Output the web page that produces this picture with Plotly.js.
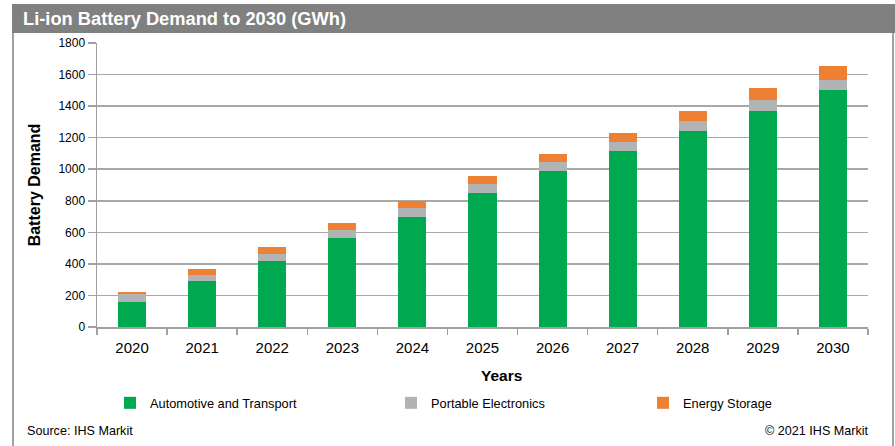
<!DOCTYPE html>
<html>
<head>
<meta charset="utf-8">
<script src="https://cdn.plot.ly/plotly-3.0.1.min.js"></script>
<style>html,body{margin:0;padding:0;background:#fff;}#chart{width:895px;height:446px;}</style>
</head>
<body>
<div id="chart"></div>
<script>
const years = ['2020','2021','2022','2023','2024','2025','2026','2027','2028','2029','2030'];
const automotive = [160, 290, 416, 562, 699, 851, 987, 1114, 1243, 1372, 1499];
const portable   = [47, 41, 48, 53, 53, 54, 57, 57, 61, 67, 69];
const storage    = [17, 36, 41, 46, 48, 53, 51, 61, 66, 76, 88];
const seriesNames = ['Automotive and Transport', 'Portable Electronics', 'Energy Storage'];
const colors = ['#00a94f', '#b2b3b5', '#ee8033'];

const W = 895, H = 446;
const M = {l: 97, r: 27, t: 43, b: 119};
const PW = W - M.l - M.r, PH = H - M.t - M.b;
const px = x => (x - M.l) / PW;
const py = y => (H - M.b - y) / PH;

const FONT = 'Arial, "Liberation Sans", sans-serif';

const data = [automotive, portable, storage].map((vals, i) => ({
  type: 'bar',
  x: years,
  y: vals,
  name: seriesNames[i],
  marker: {color: colors[i]},
  legend: i === 0 ? 'legend' : 'legend' + (i + 1),
  hoverinfo: 'x+y+name'
}));

const legendBase = {
  orientation: 'h', yanchor: 'middle', xanchor: 'left',
  y: py(403), font: {family: FONT, size: 12.8, color: '#000'},
  bgcolor: 'rgba(0,0,0,0)', itemwidth: 30
};

const layout = {
  width: W, height: H,
  margin: M,
  paper_bgcolor: '#fff', plot_bgcolor: '#fff',
  barmode: 'stack',
  bargap: 0.6,
  font: {family: FONT, color: '#000'},
  title: {
    text: '<b>Li-ion Battery Demand to 2030 (GWh)</b>',
    font: {family: FONT, size: 18.3, color: '#fff'},
    xref: 'container', yref: 'container',
    x: 23 / W, xanchor: 'left', y: 1 - 19 / H, yanchor: 'middle'
  },
  xaxis: {
    type: 'category',
    tickson: 'boundaries',
    ticks: 'outside', ticklen: 6, tickcolor: '#a0a0a0', tickwidth: 1.5,
    ticklabelstandoff: 6,
    showline: true, linecolor: '#a0a0a0', linewidth: 1.5,
    showgrid: false,
    tickfont: {family: FONT, size: 15, color: '#000'}
  },
  yaxis: {
    range: [0, 1800], dtick: 200,
    ticks: 'outside', ticklen: 8, tickcolor: '#a0a0a0', tickwidth: 1.5,
    showline: true, linecolor: '#a0a0a0', linewidth: 1.5,
    gridcolor: '#a8a8a8', gridwidth: 1.5,
    zeroline: false,
    tickfont: {family: FONT, size: 12, color: '#000'},
    title: {text: '<b>Battery Demand</b>', font: {family: FONT, size: 16, color: '#000'}, standoff: 14}
  },
  showlegend: true,
  legend: Object.assign({}, legendBase, {x: px(110)}),
  legend2: Object.assign({}, legendBase, {x: px(391)}),
  legend3: Object.assign({}, legendBase, {x: px(643)}),
  shapes: [
    {type: 'rect', xref: 'paper', yref: 'paper', x0: px(12), x1: px(W), y0: py(33), y1: py(4),
     fillcolor: '#808080', line: {width: 0}, layer: 'below'},
    {type: 'line', xref: 'paper', yref: 'paper', x0: px(13), x1: px(13), y0: py(33), y1: py(H),
     line: {color: '#a0a0a0', width: 2}},
    {type: 'line', xref: 'paper', yref: 'paper', x0: px(893), x1: px(893), y0: py(33), y1: py(H),
     line: {color: '#a0a0a0', width: 2}}
  ],
  annotations: [
    {text: '<b>Years</b>', xref: 'paper', yref: 'paper', x: px(501), y: py(375),
     xanchor: 'center', yanchor: 'middle', showarrow: false, font: {family: FONT, size: 15.5, color: '#000'}},
    {text: 'Source: IHS Markit', xref: 'paper', yref: 'paper', x: px(25), y: py(431),
     xanchor: 'left', yanchor: 'middle', showarrow: false, font: {family: FONT, size: 12.6, color: '#000'}},
    {text: '© 2021 IHS Markit', xref: 'paper', yref: 'paper', x: px(871), y: py(431),
     xanchor: 'right', yanchor: 'middle', showarrow: false, font: {family: FONT, size: 12.6, color: '#000'}}
  ]
};

Plotly.newPlot('chart', data, layout, {displayModeBar: false, staticPlot: true});
</script>
</body>
</html>
